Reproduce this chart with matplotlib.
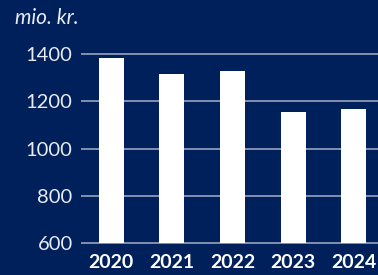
import matplotlib.pyplot as plt

years = ['2020', '2021', '2022', '2023', '2024']
values = [1385, 1316, 1329, 1155, 1168]
yticks = [600, 800, 1000, 1200, 1400]

bg = '#00205b'

fig = plt.figure(figsize=(3.78, 2.75), dpi=100, facecolor=bg)
ax = fig.add_axes([0.2143, 0.1065, 0.7857, 0.8935], facecolor=bg)

x = list(range(len(years)))
ax.bar(x, [v - 600 for v in values], bottom=600, width=0.41, color='white', zorder=3)

ax.set_xlim(-0.5, 4.4)
ax.set_ylim(590, 1629)
ax.set_yticks(yticks)
ax.set_xticks(x)
ax.set_xticklabels(years, fontfamily='Lato', fontweight='bold', fontsize=14, color='white')
ax.set_yticklabels([str(t) for t in yticks], fontfamily='Lato', fontweight='normal',
                   fontsize=14.5, color='#e8ebf2')
ax.tick_params(axis='both', length=0)
ax.tick_params(axis='y', pad=6)
ax.tick_params(axis='x', pad=6)
ax.grid(axis='y', color='#a6aec5', linewidth=1.1, zorder=1)
ax.grid(axis='x', visible=False)
for s in ax.spines.values():
    s.set_visible(False)

fig.text(0.04, 0.935, 'mio. kr.', fontfamily='Lato', fontstyle='italic',
         fontsize=15, color='#e8ebf2', va='center')

fig.savefig('out.png', dpi=100, facecolor=bg)
